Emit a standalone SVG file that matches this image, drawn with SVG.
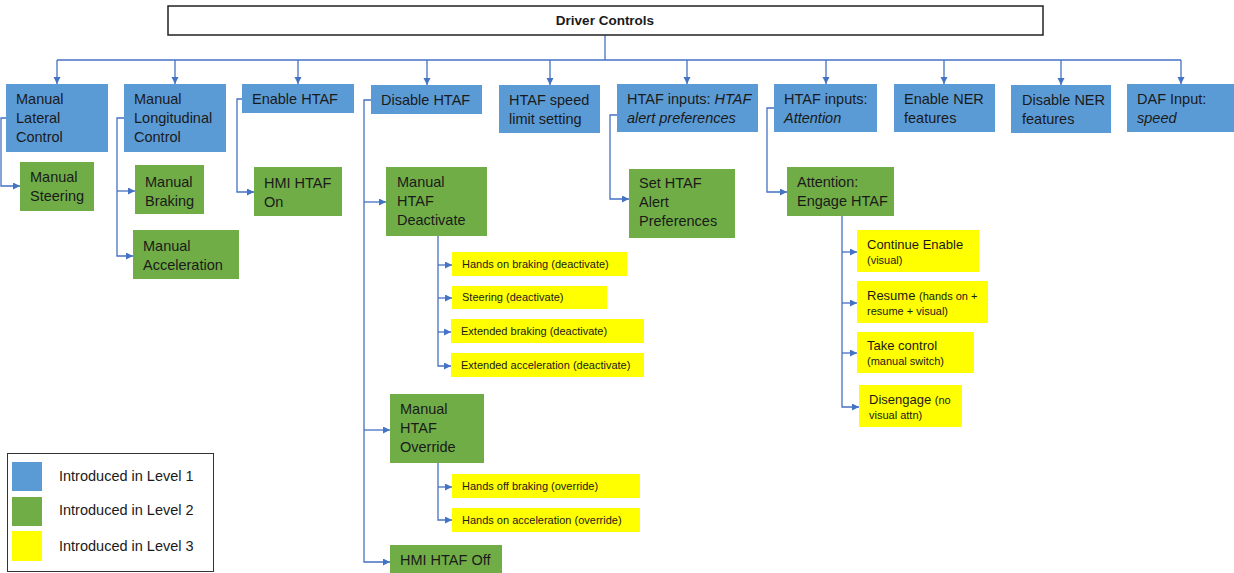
<svg xmlns="http://www.w3.org/2000/svg" width="1234" height="573" viewBox="0 0 1234 573">
  <defs>
    <marker id="arrow" markerUnits="userSpaceOnUse" markerWidth="8" markerHeight="8" refX="7" refY="3.5" orient="auto">
      <path d="M0,0 L7,3.5 L0,7 z" fill="#4472C4"/>
    </marker>
    <style>
      text { font-family: "Liberation Sans", Arial, sans-serif; fill: #1a1a1a; }
      .lbl { font-size: 14.5px; }
      .sm { font-size: 11px; }
      .md { font-size: 13px; }
      .it { font-style: italic; }
      .l1 { fill: #5B9BD5; }
      .l2 { fill: #70AD47; }
      .l3 { fill: #FFFF00; }
      .conn { fill: none; stroke: #4472C4; stroke-width: 1.3; }
      .arr { marker-end: url(#arrow); }
    </style>
  </defs>

  <rect width="1234" height="573" fill="#ffffff"/>

  <!-- connectors -->
  <g id="connectors" class="conn">
    <path d="M605,35 V60"/>
    <path d="M57,60 H1181"/>
    <path class="arr" d="M57,60 V84"/>
    <path class="arr" d="M175,60 V84"/>
    <path class="arr" d="M298,60 V84"/>
    <path class="arr" d="M427,60 V85"/>
    <path class="arr" d="M550,60 V85"/>
    <path class="arr" d="M687,60 V84"/>
    <path class="arr" d="M826,60 V84"/>
    <path class="arr" d="M944,60 V84"/>
    <path class="arr" d="M1061,60 V85"/>
    <path class="arr" d="M1181,60 V84"/>

    <path class="arr" d="M6,118 H1 V186 H20"/>
    <path class="arr" d="M124,118 H117 V256 H133"/>
    <path class="arr" d="M117,191 H135"/>
    <path class="arr" d="M242,99 H237 V192 H254"/>
    <path class="arr" d="M371,100 H364 V562 H390"/>
    <path class="arr" d="M364,202 H386"/>
    <path class="arr" d="M364,430 H390"/>
    <path class="arr" d="M617,115 H610 V199 H629"/>
    <path class="arr" d="M774,108 H767 V192 H787"/>

    <path class="arr" d="M438,236 V366 H451"/>
    <path class="arr" d="M438,265 H452"/>
    <path class="arr" d="M438,298 H452"/>
    <path class="arr" d="M438,332 H451"/>

    <path class="arr" d="M438,463 V520 H452"/>
    <path class="arr" d="M438,487 H452"/>

    <path class="arr" d="M842,216 V407 H859"/>
    <path class="arr" d="M842,252 H857"/>
    <path class="arr" d="M842,303 H857"/>
    <path class="arr" d="M842,353 H857"/>
  </g>

  <!-- root -->
  <g id="driver-controls">
    <rect x="168" y="6" width="875" height="29" fill="#ffffff" stroke="#222222" stroke-width="1.5"/>
    <text x="605" y="25" text-anchor="middle" font-size="13.5" font-weight="bold">Driver Controls</text>
  </g>

  <!-- level 1 -->
  <g id="manual-lateral-control">
    <rect class="l1" x="6" y="84" width="102" height="68"/>
    <text class="lbl" x="16" y="104">Manual</text>
    <text class="lbl" x="16" y="123">Lateral</text>
    <text class="lbl" x="16" y="142">Control</text>
  </g>
  <g id="manual-longitudinal-control">
    <rect class="l1" x="124" y="84" width="102" height="68"/>
    <text class="lbl" x="134" y="104">Manual</text>
    <text class="lbl" x="134" y="123">Longitudinal</text>
    <text class="lbl" x="134" y="142">Control</text>
  </g>
  <g id="enable-htaf">
    <rect class="l1" x="242" y="84" width="112" height="29"/>
    <text class="lbl" x="252" y="104">Enable HTAF</text>
  </g>
  <g id="disable-htaf">
    <rect class="l1" x="371" y="85" width="111" height="29"/>
    <text class="lbl" x="381" y="105">Disable HTAF</text>
  </g>
  <g id="htaf-speed-limit">
    <rect class="l1" x="499" y="85" width="101" height="48"/>
    <text class="lbl" x="509" y="105">HTAF speed</text>
    <text class="lbl" x="509" y="124">limit setting</text>
  </g>
  <g id="htaf-alert-inputs">
    <rect class="l1" x="617" y="84" width="141" height="48"/>
    <text class="lbl" x="627" y="104">HTAF inputs: <tspan class="it">HTAF</tspan></text>
    <text class="lbl it" x="627" y="123">alert preferences</text>
  </g>
  <g id="htaf-attention-inputs">
    <rect class="l1" x="774" y="84" width="103" height="48"/>
    <text class="lbl" x="784" y="104">HTAF inputs:</text>
    <text class="lbl it" x="784" y="123">Attention</text>
  </g>
  <g id="enable-ner">
    <rect class="l1" x="894" y="84" width="101" height="48"/>
    <text class="lbl" x="904" y="104">Enable NER</text>
    <text class="lbl" x="904" y="123">features</text>
  </g>
  <g id="disable-ner">
    <rect class="l1" x="1011" y="85" width="100" height="48"/>
    <text class="lbl" x="1022" y="105">Disable NER</text>
    <text class="lbl" x="1022" y="124">features</text>
  </g>
  <g id="daf-input">
    <rect class="l1" x="1127" y="84" width="107" height="48"/>
    <text class="lbl" x="1137" y="104">DAF Input:</text>
    <text class="lbl it" x="1137" y="123">speed</text>
  </g>

  <!-- level 2 -->
  <g id="manual-steering">
    <rect class="l2" x="20" y="162" width="74" height="49"/>
    <text class="lbl" x="30" y="182">Manual</text>
    <text class="lbl" x="30" y="201">Steering</text>
  </g>
  <g id="manual-braking">
    <rect class="l2" x="135" y="165" width="69" height="49"/>
    <text class="lbl" x="145" y="187">Manual</text>
    <text class="lbl" x="145" y="206">Braking</text>
  </g>
  <g id="manual-acceleration">
    <rect class="l2" x="133" y="230" width="106" height="49"/>
    <text class="lbl" x="143" y="251">Manual</text>
    <text class="lbl" x="143" y="270">Acceleration</text>
  </g>
  <g id="hmi-htaf-on">
    <rect class="l2" x="254" y="167" width="88" height="49"/>
    <text class="lbl" x="264" y="188">HMI HTAF</text>
    <text class="lbl" x="264" y="207">On</text>
  </g>
  <g id="manual-htaf-deactivate">
    <rect class="l2" x="386" y="167" width="101" height="69"/>
    <text class="lbl" x="397" y="187">Manual</text>
    <text class="lbl" x="397" y="206">HTAF</text>
    <text class="lbl" x="397" y="225">Deactivate</text>
  </g>
  <g id="manual-htaf-override">
    <rect class="l2" x="390" y="394" width="94" height="69"/>
    <text class="lbl" x="400" y="414">Manual</text>
    <text class="lbl" x="400" y="433">HTAF</text>
    <text class="lbl" x="400" y="452">Override</text>
  </g>
  <g id="hmi-htaf-off">
    <rect class="l2" x="390" y="545" width="112" height="28"/>
    <text class="lbl" x="400" y="565">HMI HTAF Off</text>
  </g>
  <g id="set-htaf-alert-preferences">
    <rect class="l2" x="629" y="169" width="106" height="69"/>
    <text class="lbl" x="639" y="188">Set HTAF</text>
    <text class="lbl" x="639" y="207">Alert</text>
    <text class="lbl" x="639" y="226">Preferences</text>
  </g>
  <g id="attention-engage-htaf">
    <rect class="l2" x="787" y="167" width="107" height="49"/>
    <text class="lbl" x="797" y="187">Attention:</text>
    <text class="lbl" x="797" y="206">Engage HTAF</text>
  </g>

  <!-- level 3: deactivate -->
  <g id="hands-on-braking-deactivate">
    <rect class="l3" x="452" y="252" width="175" height="24"/>
    <text class="sm" x="462" y="268">Hands on braking (deactivate)</text>
  </g>
  <g id="steering-deactivate">
    <rect class="l3" x="452" y="286" width="155" height="23"/>
    <text class="sm" x="462" y="301">Steering (deactivate)</text>
  </g>
  <g id="extended-braking-deactivate">
    <rect class="l3" x="451" y="319" width="193" height="24"/>
    <text class="sm" x="461" y="335">Extended braking (deactivate)</text>
  </g>
  <g id="extended-acceleration-deactivate">
    <rect class="l3" x="451" y="353" width="193" height="24"/>
    <text class="sm" x="461" y="369">Extended acceleration (deactivate)</text>
  </g>

  <!-- level 3: override -->
  <g id="hands-off-braking-override">
    <rect class="l3" x="452" y="474" width="188" height="24"/>
    <text class="sm" x="462" y="490">Hands off braking (override)</text>
  </g>
  <g id="hands-on-acceleration-override">
    <rect class="l3" x="452" y="508" width="188" height="24"/>
    <text class="sm" x="462" y="524">Hands on acceleration (override)</text>
  </g>

  <!-- level 3: attention -->
  <g id="continue-enable">
    <rect class="l3" x="857" y="230" width="122" height="42"/>
    <text class="md" x="867" y="249">Continue Enable</text>
    <text class="sm" x="867" y="264">(visual)</text>
  </g>
  <g id="resume">
    <rect class="l3" x="857" y="281" width="131" height="42"/>
    <text x="867" y="300"><tspan class="md">Resume </tspan><tspan class="sm">(hands on +</tspan></text>
    <text class="sm" x="867" y="315">resume + visual)</text>
  </g>
  <g id="take-control">
    <rect class="l3" x="857" y="332" width="117" height="41"/>
    <text class="md" x="867" y="350">Take control</text>
    <text class="sm" x="867" y="365">(manual switch)</text>
  </g>
  <g id="disengage">
    <rect class="l3" x="859" y="385" width="103" height="42"/>
    <text x="869" y="404"><tspan class="md">Disengage </tspan><tspan class="sm">(no</tspan></text>
    <text class="sm" x="869" y="419">visual attn)</text>
  </g>

  <!-- legend -->
  <g id="legend">
    <rect x="7.5" y="453.5" width="206" height="118" fill="#ffffff" stroke="#333333" stroke-width="1"/>
    <rect class="l1" x="12" y="462" width="30" height="29"/>
    <rect class="l2" x="12" y="497" width="30" height="29"/>
    <rect class="l3" x="12" y="531" width="30" height="30"/>
    <text class="lbl" x="59" y="481">Introduced in Level 1</text>
    <text class="lbl" x="59" y="515">Introduced in Level 2</text>
    <text class="lbl" x="59" y="551">Introduced in Level 3</text>
  </g>
</svg>
